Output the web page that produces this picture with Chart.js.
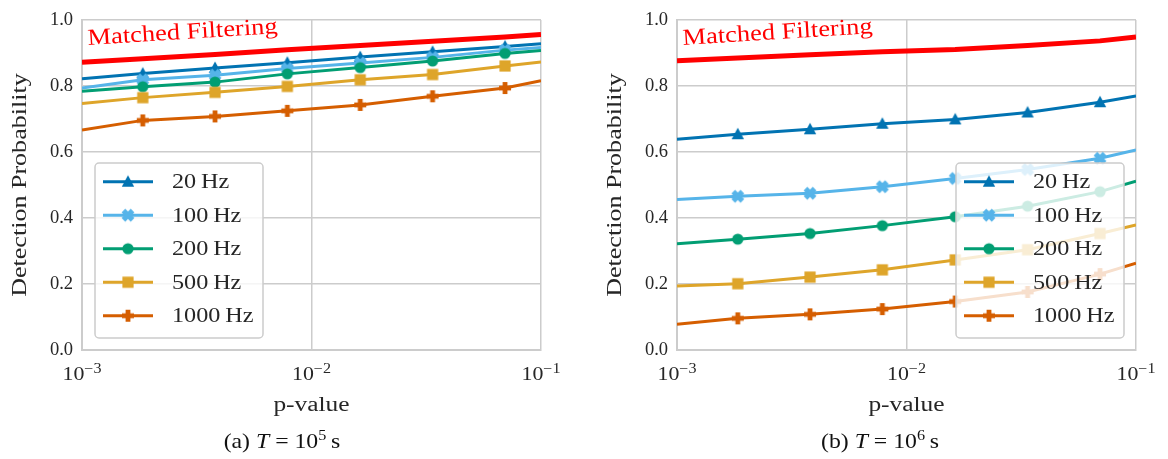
<!DOCTYPE html>
<html>
<head>
<meta charset="utf-8">
<script src="https://cdn.jsdelivr.net/npm/chart.js@4"></script>
<style>
  html, body { margin: 0; padding: 0; background: #fff; }
  #wrap { position: relative; width: 1168px; height: 459px; overflow: hidden; }
  .box { position: absolute; top: 0; width: 573px; height: 459px; }
</style>
</head>
<body>
<div id="wrap">
  <div class="box" style="left:0"><canvas id="c1"></canvas></div>
  <div class="box" style="left:595px"><canvas id="c2"></canvas></div>
</div>
<script>
// p-values: the curve ends plus the six marker positions
var pValues = [0.001, 0.00184, 0.0038, 0.00785, 0.0163, 0.0337, 0.0697, 0.1];
var seriesLabels = ['20 Hz', '100 Hz', '200 Hz', '500 Hz', '1000 Hz'];
var xTicks = [0.001, 0.01, 0.1];
var yTicks = [0, 0.2, 0.4, 0.6, 0.8, 1.0];

// (a) T = 1e5 s
var matchedA = [0.872, 0.883, 0.896, 0.910, 0.923, 0.936, 0.949, 0.956];
var hz20A    = [0.822, 0.838, 0.855, 0.871, 0.888, 0.904, 0.920, 0.928];
var hz100A   = [0.794, 0.819, 0.833, 0.853, 0.870, 0.887, 0.909, 0.917];
var hz200A   = [0.784, 0.798, 0.812, 0.837, 0.856, 0.876, 0.899, 0.908];
var hz500A   = [0.747, 0.765, 0.781, 0.799, 0.819, 0.835, 0.861, 0.873];
var hz1000A  = [0.667, 0.696, 0.708, 0.725, 0.743, 0.769, 0.794, 0.816];

// (b) T = 1e6 s
var matchedB = [0.877, 0.885, 0.895, 0.904, 0.911, 0.923, 0.937, 0.949];
var hz20B    = [0.639, 0.654, 0.669, 0.686, 0.699, 0.720, 0.751, 0.770];
var hz100B   = [0.456, 0.466, 0.475, 0.495, 0.520, 0.547, 0.581, 0.606];
var hz200B   = [0.322, 0.336, 0.353, 0.377, 0.404, 0.436, 0.480, 0.512];
var hz500B   = [0.194, 0.201, 0.221, 0.243, 0.273, 0.304, 0.353, 0.379];
var hz1000B  = [0.078, 0.096, 0.108, 0.124, 0.147, 0.176, 0.230, 0.263];

var colors = ['#0173b2', '#56b4e9', '#029e73', '#dea52a', '#d55e00'];
var kinds = ['tri', 'x', 'circle', 'square', 'plus'];
var SERIF = '"Liberation Serif", "DejaVu Serif", serif';
var GRID = '#cccccc';
var INK = '#262626';

function makeMarker(kind, color) {
  var c = document.createElement('canvas');
  c.width = 16; c.height = 16;
  var g = c.getContext('2d');
  g.fillStyle = color;
  g.translate(8, 8);
  if (kind === 'tri') {
    g.beginPath(); g.moveTo(0, -6.5); g.lineTo(6.2, 5); g.lineTo(-6.2, 5); g.closePath(); g.fill();
  } else if (kind === 'x') {
    g.rotate(Math.PI / 4);
    g.fillRect(-6.5, -2.6, 13, 5.2); g.fillRect(-2.6, -6.5, 5.2, 13);
  } else if (kind === 'circle') {
    g.beginPath(); g.arc(0, 0, 5.6, 0, Math.PI * 2); g.fill();
  } else if (kind === 'square') {
    g.fillRect(-5.6, -5.6, 11.2, 11.2);
  } else {
    g.fillRect(-6, -2.4, 12, 4.8); g.fillRect(-2.4, -6, 4.8, 12);
  }
  return c;
}
var markers = kinds.map(function (k, i) { return makeMarker(k, colors[i]); });

function pts(ys) {
  return pValues.map(function (p, i) { return { x: p, y: ys[i] }; });
}
var markRadius = pValues.map(function (p, i) { return (i === 0 || i === pValues.length - 1) ? 0 : 5; });

function buildDatasets(matched, series) {
  var ds = series.map(function (ys, i) {
    return {
      label: seriesLabels[i], data: pts(ys),
      borderColor: colors[i], backgroundColor: colors[i],
      borderWidth: 3, pointStyle: markers[i],
      pointRadius: markRadius, pointHoverRadius: markRadius,
      order: 10 - i
    };
  });
  ds.push({
    label: 'Matched Filtering', data: pts(matched),
    borderColor: '#ff0000', borderWidth: 5, pointRadius: 0, order: 0
  });
  return ds;
}

// Liberation Serif is narrower than Computer Modern, so stretch it sideways
function stretchText(ctx, text, x, y, size, sx, align, italic) {
  ctx.font = (italic ? 'italic ' : '') + size + 'px ' + SERIF;
  var w = ctx.measureText(text).width * sx;
  var x0 = align === 'center' ? x - w / 2 : (align === 'right' ? x - w : x);
  ctx.save();
  ctx.translate(x0, y);
  ctx.scale(sx, 1);
  ctx.textAlign = 'left';
  ctx.fillText(text, 0, 0);
  ctx.restore();
  return w;
}

function partsText(ctx, x, y, parts, sx) {
  // parts: [text, size, dy, italic]
  var total = 0;
  parts.forEach(function (p) {
    ctx.font = (p[3] ? 'italic ' : '') + p[1] + 'px ' + SERIF;
    total += ctx.measureText(p[0]).width * sx;
  });
  var cx = x - total / 2;
  parts.forEach(function (p) {
    cx += stretchText(ctx, p[0], cx, y + p[2], p[1], sx, 'left', p[3]);
  });
}

function decor(letter, expo, captionX, legendLeft) {
  return {
    id: 'decor',
    afterDraw: function (chart) {
      var ctx = chart.ctx, a = chart.chartArea;
      var xs = chart.scales.x;
      ctx.save();
      ctx.fillStyle = INK;
      ctx.textBaseline = 'alphabetic';
      // x tick labels 10^-n
      xTicks.forEach(function (v) {
        var e = Math.round(Math.log10(v));
        partsText(ctx, xs.getPixelForValue(v), 380, [['10', 19, 0], ['\u2212' + (-e), 14, -7]], 1.15);
      });
      // axis titles
      stretchText(ctx, 'p-value', (a.left + a.right) / 2, 411, 20.5, 1.24, 'center');
      ctx.save();
      ctx.translate(26, (a.top + a.bottom) / 2);
      ctx.rotate(-Math.PI / 2);
      stretchText(ctx, 'Detection Probability', 0, 0, 21, 1.24, 'center');
      ctx.restore();
      // caption
      ctx.fillStyle = '#111';
      partsText(ctx, captionX, 448, [['(' + letter + ') ', 22, 0], ['T', 22, 0, true], [' = 10', 22, 0], [String(expo), 15, -8.5], ['\u2009s', 22, 0]], 1.08);
      // matched filtering label
      ctx.save();
      ctx.fillStyle = '#ff0000';
      ctx.translate(a.left + 6, 45);
      ctx.rotate(-3.6 * Math.PI / 180);
      stretchText(ctx, 'Matched Filtering', 0, 0, 23, 1.15, 'left');
      ctx.restore();
      // legend
      var bx = legendLeft, by = 163, bw = 168, bh = 175;
      ctx.beginPath();
      ctx.roundRect(bx, by, bw, bh, 4);
      ctx.fillStyle = 'rgba(255,255,255,0.8)';
      ctx.fill();
      ctx.strokeStyle = GRID;
      ctx.lineWidth = 1.5;
      ctx.stroke();
      seriesLabels.forEach(function (lab, i) {
        var ry = 181.7 + 33.5 * i;
        ctx.strokeStyle = colors[i];
        ctx.lineWidth = 3;
        ctx.beginPath(); ctx.moveTo(bx + 8, ry); ctx.lineTo(bx + 58, ry); ctx.stroke();
        ctx.drawImage(markers[i], bx + 33 - 8, ry - 8);
        ctx.fillStyle = INK;
        ctx.textBaseline = 'middle';
        stretchText(ctx, lab.replace(' ', '\u2009'), bx + 77, ry + 1, 22, 1.1, 'left');
      });
      ctx.restore();
    }
  };
}

function makeChart(id, matched, series, letter, expo, captionX, legendLeft) {
  return new Chart(document.getElementById(id), {
    type: 'line',
    data: { datasets: buildDatasets(matched, series) },
    options: {
      responsive: true, maintainAspectRatio: false, animation: false,
      layout: { padding: { left: 0, right: 32, top: 10, bottom: 0 } },
      plugins: { legend: { display: false }, tooltip: { enabled: false } },
      scales: {
        x: {
          type: 'logarithmic', min: 0.001, max: 0.1,
          afterBuildTicks: function (s) { s.ticks = xTicks.map(function (v) { return { value: v }; }); },
          afterFit: function (s) { s.height = 109; },
          ticks: { display: false },
          grid: { color: GRID, lineWidth: 1.5, drawTicks: false },
          border: { color: GRID, width: 2 }
        },
        y: {
          min: 0, max: 1,
          afterBuildTicks: function (s) { s.ticks = yTicks.map(function (v) { return { value: v }; }); },
          afterFit: function (s) { s.width = 82; },
          ticks: {
            padding: 9, color: INK,
            font: { family: SERIF, size: 18.5 },
            callback: function (v) { return v.toFixed(1); }
          },
          grid: { color: GRID, lineWidth: 1.5, drawTicks: false },
          border: { color: GRID, width: 2 }
        }
      }
    },
    plugins: [decor(letter, expo, captionX, legendLeft)]
  });
}

makeChart('c1', matchedA, [hz20A, hz100A, hz200A, hz500A, hz1000A], 'a', 5, 282, 95);
makeChart('c2', matchedB, [hz20B, hz100B, hz200B, hz500B, hz1000B], 'b', 6, 880 - 595, 956 - 595);
</script>
</body>
</html>
